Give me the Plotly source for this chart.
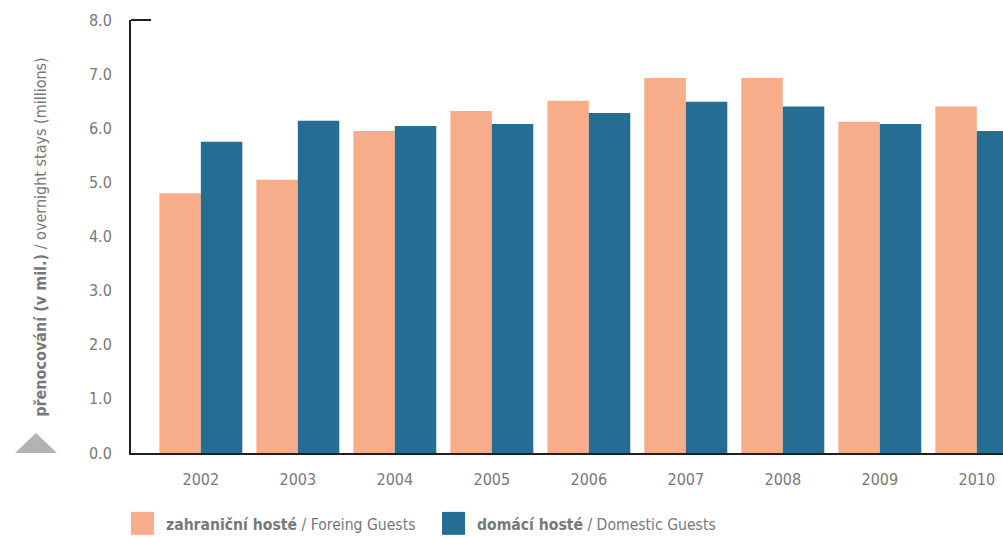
import plotly.graph_objects as go

years = ["2002", "2003", "2004", "2005", "2006", "2007", "2008", "2009", "2010"]
foreign = [4.80, 5.05, 5.95, 6.32, 6.51, 6.93, 6.93, 6.12, 6.40]
domestic = [5.75, 6.14, 6.04, 6.08, 6.28, 6.49, 6.40, 6.08, 5.95]
y_ticks = [0, 1, 2, 3, 4, 5, 6, 7, 8]

c_foreign = "#F7AC8A"
c_domestic = "#256D93"
gray = "#77787B"
dark = "#231F20"
font = "DejaVu Sans Condensed, Liberation Sans Narrow, sans-serif"

fig = go.Figure()
fig.add_trace(go.Bar(x=years, y=foreign, name="zahraniční hosté / Foreing Guests",
                     marker=dict(color=c_foreign, line=dict(width=0)), showlegend=False))
fig.add_trace(go.Bar(x=years, y=domestic, name="domácí hosté / Domestic Guests",
                     marker=dict(color=c_domestic, line=dict(width=0)), showlegend=False))

fig.update_layout(
    width=1003, height=538,
    margin=dict(l=131, r=0, t=20, b=85),
    paper_bgcolor="white", plot_bgcolor="white",
    barmode="group", bargap=0.145, bargroupgap=0,
    font=dict(family=font, color=gray, size=15),
    xaxis=dict(type="category", range=[-0.72, 8.27], showline=True, linecolor=dark, linewidth=2,
               showgrid=False, ticks="", ticklabelstandoff=11, tickfont=dict(size=16, color=gray)),
    yaxis=dict(range=[0, 8], tickvals=y_ticks, tickformat=".1f", showline=True, linecolor=dark,
               linewidth=2, showgrid=False, zeroline=False, ticks="", ticklabelstandoff=14,
               tickfont=dict(size=16, color=gray)),
)

# top tick at 8.0
fig.add_shape(type="line", xref="paper", yref="paper", x0=0, x1=0.023, y0=1, y1=1,
              line=dict(color=dark, width=2))

# triangle marker by y-axis title
fig.add_shape(type="path", xref="paper", yref="paper",
              path="M -0.133 0 L -0.0849 0 L -0.109 0.0462 Z",
              fillcolor="#B1B3B6", line=dict(width=0))

# y-axis title
fig.add_annotation(xref="paper", yref="paper", x=-0.104, y=0.50, textangle=-90,
                   text="<b>přenocování (v mil.)</b> / overnight stays (millions)",
                   showarrow=False, font=dict(size=16, color=gray, family=font),
                   xanchor="center", yanchor="middle")

# legend (manual)
legend_items = [(c_foreign, "<b>zahraniční hosté</b> / Foreing Guests", 0.0),
                (c_domestic, "<b>domácí hosté</b> / Domestic Guests", 0.3567)]
for col, txt, x0 in legend_items:
    fig.add_shape(type="rect", xref="paper", yref="paper", x0=x0, x1=x0 + 0.0264,
                  y0=-0.189, y1=-0.136, fillcolor=col, line=dict(width=0))
    fig.add_annotation(xref="paper", yref="paper", x=x0 + 0.0378, y=-0.166, text=txt,
                       showarrow=False, xanchor="left", yanchor="middle",
                       font=dict(size=15.6, color=gray, family=font))

fig.write_html("out.html", config={"displayModeBar": False},
               post_script="document.body.style.margin='0px';document.body.style.overflow='hidden';")
